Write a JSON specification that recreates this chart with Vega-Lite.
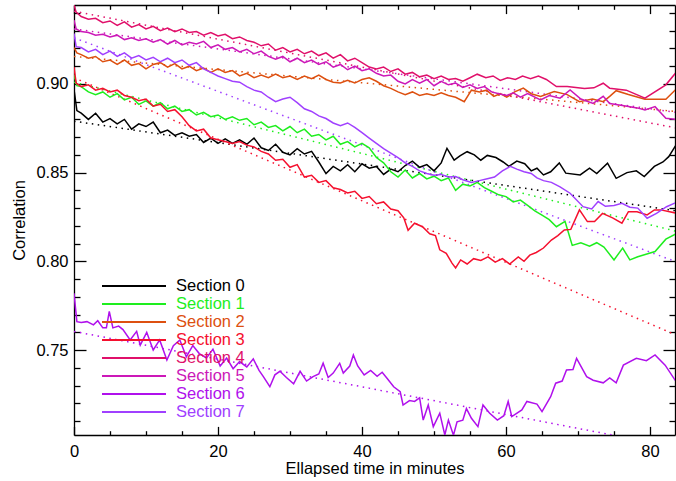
{
  "$schema": "https://vega.github.io/schema/vega-lite/v6.json",
  "width": 601,
  "height": 430,
  "autosize": {"type": "none"},
  "padding": {"left": 74, "top": 5, "right": 1, "bottom": 46},
  "background": "white",
  "config": {
    "view": {"stroke": null},
    "font": "Liberation Sans",
    "axis": {
      "labelFont": "Liberation Sans", "titleFont": "Liberation Sans",
      "labelFontSize": 16.5, "titleFontSize": 16.5, "titleFontWeight": "normal",
      "labelColor": "black", "titleColor": "black",
      "domainColor": "black", "tickColor": "black",
      "domainWidth": 1.3, "tickWidth": 1.3,
      "grid": false, "labelFlush": false, "labelOverlap": false
    }
  },
  "datasets": {
    "lines": [
      {"s":"Section 0","t":0,"c":0.897},{"s":"Section 0","t":0.4,"c":0.885},{"s":"Section 0","t":1,"c":0.8835},{"s":"Section 0","t":2,"c":0.880},{"s":"Section 0","t":3,"c":0.8835},{"s":"Section 0","t":4,"c":0.8785},{"s":"Section 0","t":5,"c":0.8805},{"s":"Section 0","t":6,"c":0.8775},{"s":"Section 0","t":7,"c":0.880},{"s":"Section 0","t":8,"c":0.8745},{"s":"Section 0","t":9,"c":0.8775},{"s":"Section 0","t":10,"c":0.876},{"s":"Section 0","t":11,"c":0.8785},{"s":"Section 0","t":12,"c":0.8725},{"s":"Section 0","t":13,"c":0.874},{"s":"Section 0","t":14,"c":0.871},{"s":"Section 0","t":15,"c":0.8725},{"s":"Section 0","t":16,"c":0.8705},{"s":"Section 0","t":17,"c":0.8715},{"s":"Section 0","t":18,"c":0.867},{"s":"Section 0","t":19,"c":0.8695},{"s":"Section 0","t":20,"c":0.8665},{"s":"Section 0","t":21,"c":0.869},{"s":"Section 0","t":22,"c":0.8665},{"s":"Section 0","t":23,"c":0.8685},{"s":"Section 0","t":24,"c":0.866},{"s":"Section 0","t":25,"c":0.8695},{"s":"Section 0","t":26,"c":0.864},{"s":"Section 0","t":27,"c":0.8625},{"s":"Section 0","t":28,"c":0.866},{"s":"Section 0","t":29,"c":0.8615},{"s":"Section 0","t":30,"c":0.860},{"s":"Section 0","t":31,"c":0.8635},{"s":"Section 0","t":32,"c":0.8605},{"s":"Section 0","t":33,"c":0.862},{"s":"Section 0","t":34,"c":0.856},{"s":"Section 0","t":35,"c":0.8495},{"s":"Section 0","t":36,"c":0.8535},{"s":"Section 0","t":37,"c":0.851},{"s":"Section 0","t":38,"c":0.8545},{"s":"Section 0","t":39,"c":0.8505},{"s":"Section 0","t":40,"c":0.855},{"s":"Section 0","t":41,"c":0.8525},{"s":"Section 0","t":42,"c":0.8535},{"s":"Section 0","t":43,"c":0.849},{"s":"Section 0","t":44,"c":0.852},{"s":"Section 0","t":45,"c":0.8505},{"s":"Section 0","t":46,"c":0.854},{"s":"Section 0","t":47,"c":0.8565},{"s":"Section 0","t":48,"c":0.853},{"s":"Section 0","t":49,"c":0.8545},{"s":"Section 0","t":50,"c":0.851},{"s":"Section 0","t":51,"c":0.8555},{"s":"Section 0","t":51.8,"c":0.8637},{"s":"Section 0","t":52.8,"c":0.857},{"s":"Section 0","t":53.6,"c":0.8595},{"s":"Section 0","t":54.6,"c":0.8618},{"s":"Section 0","t":55.6,"c":0.860},{"s":"Section 0","t":56.5,"c":0.857},{"s":"Section 0","t":57.4,"c":0.8597},{"s":"Section 0","t":58.6,"c":0.8585},{"s":"Section 0","t":59.6,"c":0.856},{"s":"Section 0","t":60.4,"c":0.8535},{"s":"Section 0","t":61.5,"c":0.8565},{"s":"Section 0","t":62.6,"c":0.855},{"s":"Section 0","t":63.5,"c":0.851},{"s":"Section 0","t":64.3,"c":0.8525},{"s":"Section 0","t":65.2,"c":0.8487},{"s":"Section 0","t":66.2,"c":0.8505},{"s":"Section 0","t":67.4,"c":0.8555},{"s":"Section 0","t":68.3,"c":0.8497},{"s":"Section 0","t":70.3,"c":0.8487},{"s":"Section 0","t":71.6,"c":0.8525},{"s":"Section 0","t":72.6,"c":0.8495},{"s":"Section 0","t":74.1,"c":0.8553},{"s":"Section 0","t":75.3,"c":0.8468},{"s":"Section 0","t":76.8,"c":0.850},{"s":"Section 0","t":78.1,"c":0.851},{"s":"Section 0","t":79.2,"c":0.8478},{"s":"Section 0","t":80.6,"c":0.8535},{"s":"Section 0","t":81.8,"c":0.856},{"s":"Section 0","t":82.6,"c":0.859},{"s":"Section 0","t":83.6,"c":0.8655},

      {"s":"Section 1","t":0,"c":0.905},{"s":"Section 1","t":0.4,"c":0.899},{"s":"Section 1","t":1,"c":0.8985},{"s":"Section 1","t":2,"c":0.8955},{"s":"Section 1","t":3,"c":0.894},{"s":"Section 1","t":4,"c":0.8955},{"s":"Section 1","t":5,"c":0.8925},{"s":"Section 1","t":6,"c":0.8945},{"s":"Section 1","t":7,"c":0.891},{"s":"Section 1","t":8,"c":0.8925},{"s":"Section 1","t":9,"c":0.8885},{"s":"Section 1","t":10,"c":0.8905},{"s":"Section 1","t":11,"c":0.8875},{"s":"Section 1","t":12,"c":0.8895},{"s":"Section 1","t":13,"c":0.886},{"s":"Section 1","t":14,"c":0.8875},{"s":"Section 1","t":15,"c":0.8845},{"s":"Section 1","t":16,"c":0.8855},{"s":"Section 1","t":17,"c":0.8825},{"s":"Section 1","t":18,"c":0.884},{"s":"Section 1","t":19,"c":0.8815},{"s":"Section 1","t":20,"c":0.8825},{"s":"Section 1","t":21,"c":0.880},{"s":"Section 1","t":22,"c":0.8815},{"s":"Section 1","t":23,"c":0.8795},{"s":"Section 1","t":24,"c":0.8805},{"s":"Section 1","t":25,"c":0.877},{"s":"Section 1","t":26,"c":0.8785},{"s":"Section 1","t":27,"c":0.8755},{"s":"Section 1","t":28,"c":0.8765},{"s":"Section 1","t":29,"c":0.8735},{"s":"Section 1","t":30,"c":0.876},{"s":"Section 1","t":31,"c":0.8725},{"s":"Section 1","t":32,"c":0.8745},{"s":"Section 1","t":33,"c":0.8705},{"s":"Section 1","t":34,"c":0.8715},{"s":"Section 1","t":35,"c":0.8685},{"s":"Section 1","t":36,"c":0.8705},{"s":"Section 1","t":37,"c":0.866},{"s":"Section 1","t":38,"c":0.8675},{"s":"Section 1","t":39,"c":0.8645},{"s":"Section 1","t":40,"c":0.8665},{"s":"Section 1","t":41,"c":0.864},{"s":"Section 1","t":42,"c":0.8585},{"s":"Section 1","t":43,"c":0.8555},{"s":"Section 1","t":44,"c":0.8505},{"s":"Section 1","t":45,"c":0.8475},{"s":"Section 1","t":46,"c":0.8515},{"s":"Section 1","t":47,"c":0.847},{"s":"Section 1","t":48,"c":0.8495},{"s":"Section 1","t":49,"c":0.8465},{"s":"Section 1","t":50,"c":0.848},{"s":"Section 1","t":51,"c":0.8455},{"s":"Section 1","t":52,"c":0.847},{"s":"Section 1","t":53,"c":0.840},{"s":"Section 1","t":54,"c":0.8435},{"s":"Section 1","t":55,"c":0.8425},{"s":"Section 1","t":56,"c":0.8445},{"s":"Section 1","t":57,"c":0.8415},{"s":"Section 1","t":58,"c":0.8395},{"s":"Section 1","t":59,"c":0.8375},{"s":"Section 1","t":60,"c":0.8365},{"s":"Section 1","t":61,"c":0.8335},{"s":"Section 1","t":62,"c":0.8345},{"s":"Section 1","t":63,"c":0.8315},{"s":"Section 1","t":64,"c":0.8285},{"s":"Section 1","t":65,"c":0.826},{"s":"Section 1","t":66,"c":0.8235},{"s":"Section 1","t":67,"c":0.8195},{"s":"Section 1","t":68.2,"c":0.8225},{"s":"Section 1","t":69.2,"c":0.809},{"s":"Section 1","t":70.4,"c":0.8105},{"s":"Section 1","t":71.6,"c":0.8085},{"s":"Section 1","t":72.6,"c":0.8105},{"s":"Section 1","t":73.6,"c":0.808},{"s":"Section 1","t":75,"c":0.8008},{"s":"Section 1","t":76.2,"c":0.8075},{"s":"Section 1","t":77.2,"c":0.8008},{"s":"Section 1","t":78.3,"c":0.8026},{"s":"Section 1","t":80.7,"c":0.8055},{"s":"Section 1","t":82.2,"c":0.8125},{"s":"Section 1","t":83.6,"c":0.8155},

      {"s":"Section 2","t":0,"c":0.9205},{"s":"Section 2","t":0.4,"c":0.9175},{"s":"Section 2","t":1,"c":0.9165},{"s":"Section 2","t":2,"c":0.9145},{"s":"Section 2","t":3,"c":0.9155},{"s":"Section 2","t":4,"c":0.9125},{"s":"Section 2","t":5,"c":0.9135},{"s":"Section 2","t":6,"c":0.911},{"s":"Section 2","t":7,"c":0.9135},{"s":"Section 2","t":8,"c":0.9105},{"s":"Section 2","t":9,"c":0.9115},{"s":"Section 2","t":10,"c":0.9085},{"s":"Section 2","t":11,"c":0.911},{"s":"Section 2","t":12,"c":0.912},{"s":"Section 2","t":13,"c":0.9095},{"s":"Section 2","t":14,"c":0.9115},{"s":"Section 2","t":15,"c":0.9085},{"s":"Section 2","t":16,"c":0.910},{"s":"Section 2","t":17,"c":0.9075},{"s":"Section 2","t":18,"c":0.909},{"s":"Section 2","t":19,"c":0.9065},{"s":"Section 2","t":20,"c":0.9085},{"s":"Section 2","t":21,"c":0.9065},{"s":"Section 2","t":22,"c":0.9075},{"s":"Section 2","t":23,"c":0.9045},{"s":"Section 2","t":24,"c":0.906},{"s":"Section 2","t":25,"c":0.9035},{"s":"Section 2","t":26,"c":0.905},{"s":"Section 2","t":27,"c":0.9035},{"s":"Section 2","t":28,"c":0.9055},{"s":"Section 2","t":29,"c":0.9035},{"s":"Section 2","t":30,"c":0.9045},{"s":"Section 2","t":31,"c":0.9025},{"s":"Section 2","t":32,"c":0.9045},{"s":"Section 2","t":33,"c":0.903},{"s":"Section 2","t":34,"c":0.905},{"s":"Section 2","t":35,"c":0.9025},{"s":"Section 2","t":36,"c":0.901},{"s":"Section 2","t":37,"c":0.9005},{"s":"Section 2","t":38,"c":0.902},{"s":"Section 2","t":39,"c":0.9005},{"s":"Section 2","t":40,"c":0.9025},{"s":"Section 2","t":41,"c":0.9035},{"s":"Section 2","t":42,"c":0.9015},{"s":"Section 2","t":43,"c":0.899},{"s":"Section 2","t":44,"c":0.8975},{"s":"Section 2","t":45,"c":0.8955},{"s":"Section 2","t":46,"c":0.894},{"s":"Section 2","t":47,"c":0.8955},{"s":"Section 2","t":48,"c":0.8935},{"s":"Section 2","t":49,"c":0.8945},{"s":"Section 2","t":50,"c":0.8935},{"s":"Section 2","t":51,"c":0.895},{"s":"Section 2","t":52,"c":0.8935},{"s":"Section 2","t":53,"c":0.8925},{"s":"Section 2","t":54.2,"c":0.890},{"s":"Section 2","t":55.2,"c":0.8965},{"s":"Section 2","t":56.3,"c":0.8955},{"s":"Section 2","t":57.3,"c":0.8965},{"s":"Section 2","t":58.3,"c":0.893},{"s":"Section 2","t":59.2,"c":0.8945},{"s":"Section 2","t":60.1,"c":0.8925},{"s":"Section 2","t":61.2,"c":0.8955},{"s":"Section 2","t":62.4,"c":0.8977},{"s":"Section 2","t":63.5,"c":0.8945},{"s":"Section 2","t":64.8,"c":0.893},{"s":"Section 2","t":66.7,"c":0.8957},{"s":"Section 2","t":68.5,"c":0.894},{"s":"Section 2","t":70.2,"c":0.890},{"s":"Section 2","t":72,"c":0.8915},{"s":"Section 2","t":73.5,"c":0.890},{"s":"Section 2","t":74.4,"c":0.893},{"s":"Section 2","t":75.3,"c":0.8962},{"s":"Section 2","t":77,"c":0.894},{"s":"Section 2","t":79.3,"c":0.8914},{"s":"Section 2","t":82.2,"c":0.8914},{"s":"Section 2","t":83.6,"c":0.897},

      {"s":"Section 3","t":0,"c":0.9095},{"s":"Section 3","t":0.3,"c":0.9005},{"s":"Section 3","t":1,"c":0.8985},{"s":"Section 3","t":2,"c":0.8995},{"s":"Section 3","t":3,"c":0.8965},{"s":"Section 3","t":4,"c":0.8975},{"s":"Section 3","t":5,"c":0.8955},{"s":"Section 3","t":6,"c":0.8965},{"s":"Section 3","t":7,"c":0.8935},{"s":"Section 3","t":8,"c":0.8925},{"s":"Section 3","t":9,"c":0.8905},{"s":"Section 3","t":10,"c":0.8915},{"s":"Section 3","t":11,"c":0.8875},{"s":"Section 3","t":12,"c":0.8885},{"s":"Section 3","t":13,"c":0.8845},{"s":"Section 3","t":14,"c":0.8855},{"s":"Section 3","t":15,"c":0.8815},{"s":"Section 3","t":16,"c":0.8765},{"s":"Section 3","t":17,"c":0.8735},{"s":"Section 3","t":18,"c":0.8745},{"s":"Section 3","t":19,"c":0.8695},{"s":"Section 3","t":20,"c":0.8685},{"s":"Section 3","t":21,"c":0.8675},{"s":"Section 3","t":22,"c":0.8665},{"s":"Section 3","t":23,"c":0.8675},{"s":"Section 3","t":24,"c":0.8655},{"s":"Section 3","t":25,"c":0.8645},{"s":"Section 3","t":26,"c":0.862},{"s":"Section 3","t":27,"c":0.8605},{"s":"Section 3","t":28,"c":0.857},{"s":"Section 3","t":29,"c":0.8575},{"s":"Section 3","t":30,"c":0.853},{"s":"Section 3","t":31,"c":0.8545},{"s":"Section 3","t":32,"c":0.8475},{"s":"Section 3","t":33,"c":0.8485},{"s":"Section 3","t":34,"c":0.8445},{"s":"Section 3","t":35,"c":0.8455},{"s":"Section 3","t":36,"c":0.8415},{"s":"Section 3","t":37,"c":0.8405},{"s":"Section 3","t":38,"c":0.8385},{"s":"Section 3","t":39,"c":0.8395},{"s":"Section 3","t":40,"c":0.8355},{"s":"Section 3","t":41,"c":0.8365},{"s":"Section 3","t":42,"c":0.8325},{"s":"Section 3","t":43,"c":0.8335},{"s":"Section 3","t":44,"c":0.8295},{"s":"Section 3","t":45,"c":0.8285},{"s":"Section 3","t":45.8,"c":0.8245},{"s":"Section 3","t":46.4,"c":0.8175},{"s":"Section 3","t":47.3,"c":0.8215},{"s":"Section 3","t":48.4,"c":0.8195},{"s":"Section 3","t":49.4,"c":0.8155},{"s":"Section 3","t":50.2,"c":0.8145},{"s":"Section 3","t":50.8,"c":0.8065},{"s":"Section 3","t":51.7,"c":0.8045},{"s":"Section 3","t":52.5,"c":0.799},{"s":"Section 3","t":53,"c":0.7963},{"s":"Section 3","t":53.7,"c":0.8008},{"s":"Section 3","t":54.6,"c":0.7985},{"s":"Section 3","t":55.5,"c":0.8015},{"s":"Section 3","t":56.5,"c":0.8005},{"s":"Section 3","t":57.5,"c":0.8025},{"s":"Section 3","t":58.5,"c":0.7995},{"s":"Section 3","t":59.5,"c":0.8015},{"s":"Section 3","t":60.5,"c":0.7985},{"s":"Section 3","t":61.7,"c":0.8025},{"s":"Section 3","t":62.5,"c":0.800},{"s":"Section 3","t":63.3,"c":0.8035},{"s":"Section 3","t":64.2,"c":0.805},{"s":"Section 3","t":65.2,"c":0.8075},{"s":"Section 3","t":66.3,"c":0.812},{"s":"Section 3","t":67.2,"c":0.8145},{"s":"Section 3","t":68.1,"c":0.8177},{"s":"Section 3","t":69,"c":0.818},{"s":"Section 3","t":70.2,"c":0.829},{"s":"Section 3","t":71.3,"c":0.8224},{"s":"Section 3","t":72.3,"c":0.8225},{"s":"Section 3","t":73.4,"c":0.827},{"s":"Section 3","t":74.8,"c":0.8245},{"s":"Section 3","t":76.1,"c":0.8215},{"s":"Section 3","t":77,"c":0.828},{"s":"Section 3","t":78.2,"c":0.828},{"s":"Section 3","t":79.6,"c":0.8262},{"s":"Section 3","t":80.6,"c":0.829},{"s":"Section 3","t":81.5,"c":0.829},{"s":"Section 3","t":83.6,"c":0.8272},

      {"s":"Section 4","t":0,"c":0.9445},{"s":"Section 4","t":0.3,"c":0.9405},{"s":"Section 4","t":1,"c":0.938},{"s":"Section 4","t":2,"c":0.9365},{"s":"Section 4","t":3,"c":0.937},{"s":"Section 4","t":4,"c":0.9345},{"s":"Section 4","t":5,"c":0.9355},{"s":"Section 4","t":6,"c":0.933},{"s":"Section 4","t":7,"c":0.935},{"s":"Section 4","t":8,"c":0.932},{"s":"Section 4","t":9,"c":0.9335},{"s":"Section 4","t":10,"c":0.931},{"s":"Section 4","t":11,"c":0.9325},{"s":"Section 4","t":12,"c":0.930},{"s":"Section 4","t":13,"c":0.9315},{"s":"Section 4","t":14,"c":0.9295},{"s":"Section 4","t":15,"c":0.931},{"s":"Section 4","t":16,"c":0.929},{"s":"Section 4","t":17,"c":0.9295},{"s":"Section 4","t":18,"c":0.9275},{"s":"Section 4","t":19,"c":0.929},{"s":"Section 4","t":20,"c":0.927},{"s":"Section 4","t":21,"c":0.928},{"s":"Section 4","t":22,"c":0.9255},{"s":"Section 4","t":23,"c":0.9265},{"s":"Section 4","t":24,"c":0.9245},{"s":"Section 4","t":25,"c":0.9235},{"s":"Section 4","t":26,"c":0.9215},{"s":"Section 4","t":27,"c":0.9225},{"s":"Section 4","t":28,"c":0.919},{"s":"Section 4","t":29,"c":0.9205},{"s":"Section 4","t":30,"c":0.918},{"s":"Section 4","t":31,"c":0.9195},{"s":"Section 4","t":32,"c":0.917},{"s":"Section 4","t":33,"c":0.9185},{"s":"Section 4","t":34,"c":0.916},{"s":"Section 4","t":35,"c":0.9175},{"s":"Section 4","t":36,"c":0.9145},{"s":"Section 4","t":37,"c":0.9165},{"s":"Section 4","t":38,"c":0.913},{"s":"Section 4","t":39,"c":0.9145},{"s":"Section 4","t":40,"c":0.912},{"s":"Section 4","t":41,"c":0.9095},{"s":"Section 4","t":42,"c":0.9085},{"s":"Section 4","t":43,"c":0.9095},{"s":"Section 4","t":44,"c":0.907},{"s":"Section 4","t":45,"c":0.9085},{"s":"Section 4","t":46,"c":0.9055},{"s":"Section 4","t":47,"c":0.9065},{"s":"Section 4","t":48,"c":0.904},{"s":"Section 4","t":49,"c":0.905},{"s":"Section 4","t":50,"c":0.903},{"s":"Section 4","t":51,"c":0.9045},{"s":"Section 4","t":52,"c":0.9025},{"s":"Section 4","t":53,"c":0.903},{"s":"Section 4","t":54,"c":0.9015},{"s":"Section 4","t":55,"c":0.9035},{"s":"Section 4","t":56,"c":0.9055},{"s":"Section 4","t":57.2,"c":0.9035},{"s":"Section 4","t":58.2,"c":0.9045},{"s":"Section 4","t":59.2,"c":0.902},{"s":"Section 4","t":60.2,"c":0.9035},{"s":"Section 4","t":61.3,"c":0.9025},{"s":"Section 4","t":62.3,"c":0.9045},{"s":"Section 4","t":63.4,"c":0.903},{"s":"Section 4","t":64.5,"c":0.9045},{"s":"Section 4","t":65.6,"c":0.9025},{"s":"Section 4","t":67,"c":0.8985},{"s":"Section 4","t":68.5,"c":0.8985},{"s":"Section 4","t":70.9,"c":0.8975},{"s":"Section 4","t":72.2,"c":0.8978},{"s":"Section 4","t":73.5,"c":0.9004},{"s":"Section 4","t":74.4,"c":0.8976},{"s":"Section 4","t":76.7,"c":0.8965},{"s":"Section 4","t":79.3,"c":0.892},{"s":"Section 4","t":82.2,"c":0.8995},{"s":"Section 4","t":83.6,"c":0.9064},

      {"s":"Section 5","t":0,"c":0.936},{"s":"Section 5","t":0.3,"c":0.931},{"s":"Section 5","t":1,"c":0.9295},{"s":"Section 5","t":2,"c":0.929},{"s":"Section 5","t":3,"c":0.9275},{"s":"Section 5","t":4,"c":0.928},{"s":"Section 5","t":5,"c":0.9265},{"s":"Section 5","t":6,"c":0.9275},{"s":"Section 5","t":7,"c":0.925},{"s":"Section 5","t":8,"c":0.926},{"s":"Section 5","t":9,"c":0.9245},{"s":"Section 5","t":10,"c":0.9255},{"s":"Section 5","t":11,"c":0.9235},{"s":"Section 5","t":12,"c":0.925},{"s":"Section 5","t":13,"c":0.9225},{"s":"Section 5","t":14,"c":0.9245},{"s":"Section 5","t":15,"c":0.922},{"s":"Section 5","t":16,"c":0.9235},{"s":"Section 5","t":17,"c":0.9225},{"s":"Section 5","t":18,"c":0.924},{"s":"Section 5","t":19,"c":0.9205},{"s":"Section 5","t":20,"c":0.922},{"s":"Section 5","t":21,"c":0.9195},{"s":"Section 5","t":22,"c":0.9205},{"s":"Section 5","t":23,"c":0.918},{"s":"Section 5","t":24,"c":0.9195},{"s":"Section 5","t":25,"c":0.917},{"s":"Section 5","t":26,"c":0.9185},{"s":"Section 5","t":27,"c":0.9155},{"s":"Section 5","t":28,"c":0.914},{"s":"Section 5","t":29,"c":0.9155},{"s":"Section 5","t":30,"c":0.9125},{"s":"Section 5","t":31,"c":0.9145},{"s":"Section 5","t":32,"c":0.912},{"s":"Section 5","t":33,"c":0.9135},{"s":"Section 5","t":34,"c":0.911},{"s":"Section 5","t":35,"c":0.9125},{"s":"Section 5","t":36,"c":0.9095},{"s":"Section 5","t":37,"c":0.911},{"s":"Section 5","t":38,"c":0.908},{"s":"Section 5","t":39,"c":0.910},{"s":"Section 5","t":40,"c":0.9075},{"s":"Section 5","t":41,"c":0.9085},{"s":"Section 5","t":42,"c":0.906},{"s":"Section 5","t":43,"c":0.9045},{"s":"Section 5","t":44,"c":0.905},{"s":"Section 5","t":45,"c":0.9015},{"s":"Section 5","t":46,"c":0.900},{"s":"Section 5","t":47,"c":0.9025},{"s":"Section 5","t":48,"c":0.9005},{"s":"Section 5","t":49,"c":0.9025},{"s":"Section 5","t":50,"c":0.899},{"s":"Section 5","t":51,"c":0.9015},{"s":"Section 5","t":52,"c":0.8995},{"s":"Section 5","t":53,"c":0.9005},{"s":"Section 5","t":54,"c":0.898},{"s":"Section 5","t":55,"c":0.8995},{"s":"Section 5","t":56,"c":0.8975},{"s":"Section 5","t":57,"c":0.8985},{"s":"Section 5","t":58,"c":0.8955},{"s":"Section 5","t":59,"c":0.8945},{"s":"Section 5","t":60.1,"c":0.8935},{"s":"Section 5","t":61,"c":0.895},{"s":"Section 5","t":62,"c":0.8925},{"s":"Section 5","t":63,"c":0.8945},{"s":"Section 5","t":64.8,"c":0.891},{"s":"Section 5","t":66,"c":0.8935},{"s":"Section 5","t":67.5,"c":0.892},{"s":"Section 5","t":68.9,"c":0.8966},{"s":"Section 5","t":70.4,"c":0.8915},{"s":"Section 5","t":72.1,"c":0.889},{"s":"Section 5","t":73.5,"c":0.893},{"s":"Section 5","t":74.4,"c":0.889},{"s":"Section 5","t":76.6,"c":0.8875},{"s":"Section 5","t":78.2,"c":0.8865},{"s":"Section 5","t":79.3,"c":0.8853},{"s":"Section 5","t":80.7,"c":0.8872},{"s":"Section 5","t":82.2,"c":0.8807},{"s":"Section 5","t":83.6,"c":0.880},

      {"s":"Section 6","t":0,"c":0.782},{"s":"Section 6","t":0.4,"c":0.766},{"s":"Section 6","t":1,"c":0.7655},{"s":"Section 6","t":1.8,"c":0.766},{"s":"Section 6","t":2.7,"c":0.7642},{"s":"Section 6","t":3.3,"c":0.7665},{"s":"Section 6","t":4,"c":0.7625},{"s":"Section 6","t":4.5,"c":0.7625},{"s":"Section 6","t":4.9,"c":0.7718},{"s":"Section 6","t":5.4,"c":0.7625},{"s":"Section 6","t":6.2,"c":0.7635},{"s":"Section 6","t":6.8,"c":0.7615},{"s":"Section 6","t":7.8,"c":0.7557},{"s":"Section 6","t":8.7,"c":0.7605},{"s":"Section 6","t":9.2,"c":0.7528},{"s":"Section 6","t":10.1,"c":0.760},{"s":"Section 6","t":11,"c":0.750},{"s":"Section 6","t":11.9,"c":0.7557},{"s":"Section 6","t":12.9,"c":0.7444},{"s":"Section 6","t":13.8,"c":0.7525},{"s":"Section 6","t":14.7,"c":0.7557},{"s":"Section 6","t":15.6,"c":0.7462},{"s":"Section 6","t":16.5,"c":0.7525},{"s":"Section 6","t":17.4,"c":0.748},{"s":"Section 6","t":18.4,"c":0.7455},{"s":"Section 6","t":19.3,"c":0.7505},{"s":"Section 6","t":20.3,"c":0.741},{"s":"Section 6","t":21.2,"c":0.7455},{"s":"Section 6","t":22.1,"c":0.7395},{"s":"Section 6","t":23,"c":0.7435},{"s":"Section 6","t":24,"c":0.7405},{"s":"Section 6","t":24.9,"c":0.745},{"s":"Section 6","t":25.7,"c":0.7385},{"s":"Section 6","t":26.3,"c":0.735},{"s":"Section 6","t":27.2,"c":0.7293},{"s":"Section 6","t":27.9,"c":0.736},{"s":"Section 6","t":28.6,"c":0.738},{"s":"Section 6","t":29.5,"c":0.7345},{"s":"Section 6","t":30.5,"c":0.731},{"s":"Section 6","t":31.4,"c":0.738},{"s":"Section 6","t":32.3,"c":0.7325},{"s":"Section 6","t":33.2,"c":0.735},{"s":"Section 6","t":34,"c":0.7365},{"s":"Section 6","t":34.6,"c":0.7426},{"s":"Section 6","t":35.3,"c":0.7345},{"s":"Section 6","t":36,"c":0.737},{"s":"Section 6","t":36.9,"c":0.7425},{"s":"Section 6","t":37.4,"c":0.737},{"s":"Section 6","t":38.3,"c":0.741},{"s":"Section 6","t":38.8,"c":0.7472},{"s":"Section 6","t":39.4,"c":0.741},{"s":"Section 6","t":40.3,"c":0.736},{"s":"Section 6","t":41.2,"c":0.7385},{"s":"Section 6","t":42.1,"c":0.7352},{"s":"Section 6","t":42.8,"c":0.7375},{"s":"Section 6","t":43.5,"c":0.734},{"s":"Section 6","t":44.4,"c":0.7293},{"s":"Section 6","t":45.3,"c":0.7265},{"s":"Section 6","t":45.7,"c":0.719},{"s":"Section 6","t":46.6,"c":0.7215},{"s":"Section 6","t":47.3,"c":0.721},{"s":"Section 6","t":48,"c":0.723},{"s":"Section 6","t":48.5,"c":0.7105},{"s":"Section 6","t":49.2,"c":0.719},{"s":"Section 6","t":49.9,"c":0.7068},{"s":"Section 6","t":50.8,"c":0.7144},{"s":"Section 6","t":51.5,"c":0.7021},{"s":"Section 6","t":52,"c":0.7105},{"s":"Section 6","t":52.7,"c":0.702},{"s":"Section 6","t":53.2,"c":0.7095},{"s":"Section 6","t":54,"c":0.7105},{"s":"Section 6","t":54.5,"c":0.717},{"s":"Section 6","t":55.2,"c":0.7115},{"s":"Section 6","t":56.1,"c":0.7068},{"s":"Section 6","t":56.8,"c":0.719},{"s":"Section 6","t":57.7,"c":0.7145},{"s":"Section 6","t":58.8,"c":0.7105},{"s":"Section 6","t":59.7,"c":0.713},{"s":"Section 6","t":60.3,"c":0.721},{"s":"Section 6","t":60.8,"c":0.7125},{"s":"Section 6","t":62.2,"c":0.7162},{"s":"Section 6","t":62.9,"c":0.721},{"s":"Section 6","t":64.3,"c":0.7195},{"s":"Section 6","t":65,"c":0.7153},{"s":"Section 6","t":66.2,"c":0.7237},{"s":"Section 6","t":66.9,"c":0.7313},{"s":"Section 6","t":67.8,"c":0.7325},{"s":"Section 6","t":68.4,"c":0.7388},{"s":"Section 6","t":69.3,"c":0.739},{"s":"Section 6","t":69.8,"c":0.7453},{"s":"Section 6","t":71.2,"c":0.735},{"s":"Section 6","t":72.1,"c":0.733},{"s":"Section 6","t":73.5,"c":0.7315},{"s":"Section 6","t":74.4,"c":0.7343},{"s":"Section 6","t":75.3,"c":0.7315},{"s":"Section 6","t":76.3,"c":0.7415},{"s":"Section 6","t":78.1,"c":0.7453},{"s":"Section 6","t":79.5,"c":0.744},{"s":"Section 6","t":80.7,"c":0.7472},{"s":"Section 6","t":82.1,"c":0.7415},{"s":"Section 6","t":83.6,"c":0.7323},

      {"s":"Section 7","t":0,"c":0.9285},{"s":"Section 7","t":0.3,"c":0.921},{"s":"Section 7","t":1,"c":0.9205},{"s":"Section 7","t":2,"c":0.918},{"s":"Section 7","t":3,"c":0.9195},{"s":"Section 7","t":4,"c":0.9165},{"s":"Section 7","t":5,"c":0.9185},{"s":"Section 7","t":6,"c":0.9155},{"s":"Section 7","t":7,"c":0.9175},{"s":"Section 7","t":8,"c":0.9145},{"s":"Section 7","t":9,"c":0.916},{"s":"Section 7","t":10,"c":0.9135},{"s":"Section 7","t":11,"c":0.915},{"s":"Section 7","t":12,"c":0.9125},{"s":"Section 7","t":13,"c":0.9145},{"s":"Section 7","t":14,"c":0.912},{"s":"Section 7","t":15,"c":0.9135},{"s":"Section 7","t":16,"c":0.9105},{"s":"Section 7","t":17,"c":0.912},{"s":"Section 7","t":18,"c":0.9085},{"s":"Section 7","t":19,"c":0.9065},{"s":"Section 7","t":20,"c":0.9045},{"s":"Section 7","t":21,"c":0.903},{"s":"Section 7","t":22,"c":0.9015},{"s":"Section 7","t":23,"c":0.901},{"s":"Section 7","t":24,"c":0.8985},{"s":"Section 7","t":25,"c":0.8965},{"s":"Section 7","t":26,"c":0.8955},{"s":"Section 7","t":27,"c":0.8925},{"s":"Section 7","t":28,"c":0.890},{"s":"Section 7","t":29,"c":0.8915},{"s":"Section 7","t":30,"c":0.8925},{"s":"Section 7","t":31,"c":0.8895},{"s":"Section 7","t":32,"c":0.886},{"s":"Section 7","t":33,"c":0.8845},{"s":"Section 7","t":34,"c":0.882},{"s":"Section 7","t":35,"c":0.8805},{"s":"Section 7","t":36,"c":0.878},{"s":"Section 7","t":37,"c":0.8765},{"s":"Section 7","t":38,"c":0.878},{"s":"Section 7","t":39,"c":0.8755},{"s":"Section 7","t":40,"c":0.8725},{"s":"Section 7","t":41,"c":0.8695},{"s":"Section 7","t":42,"c":0.8665},{"s":"Section 7","t":43,"c":0.8635},{"s":"Section 7","t":44,"c":0.861},{"s":"Section 7","t":45,"c":0.8585},{"s":"Section 7","t":46,"c":0.8555},{"s":"Section 7","t":47,"c":0.8535},{"s":"Section 7","t":48,"c":0.851},{"s":"Section 7","t":49,"c":0.8495},{"s":"Section 7","t":50,"c":0.8485},{"s":"Section 7","t":51,"c":0.849},{"s":"Section 7","t":52,"c":0.8475},{"s":"Section 7","t":53,"c":0.8478},{"s":"Section 7","t":54,"c":0.846},{"s":"Section 7","t":55.2,"c":0.8445},{"s":"Section 7","t":56.3,"c":0.8455},{"s":"Section 7","t":57.4,"c":0.8465},{"s":"Section 7","t":58.4,"c":0.8475},{"s":"Section 7","t":59.5,"c":0.851},{"s":"Section 7","t":60.6,"c":0.8535},{"s":"Section 7","t":61.5,"c":0.852},{"s":"Section 7","t":62.5,"c":0.8505},{"s":"Section 7","t":63.5,"c":0.8495},{"s":"Section 7","t":64.3,"c":0.847},{"s":"Section 7","t":65.2,"c":0.8455},{"s":"Section 7","t":66.3,"c":0.8445},{"s":"Section 7","t":67.5,"c":0.842},{"s":"Section 7","t":68.9,"c":0.8384},{"s":"Section 7","t":70.7,"c":0.8308},{"s":"Section 7","t":71.9,"c":0.8295},{"s":"Section 7","t":72.8,"c":0.8337},{"s":"Section 7","t":73.8,"c":0.831},{"s":"Section 7","t":75,"c":0.8315},{"s":"Section 7","t":76.1,"c":0.8327},{"s":"Section 7","t":77.2,"c":0.8305},{"s":"Section 7","t":78.3,"c":0.830},{"s":"Section 7","t":79.6,"c":0.8243},{"s":"Section 7","t":80.9,"c":0.827},{"s":"Section 7","t":82.3,"c":0.8308},{"s":"Section 7","t":83.6,"c":0.8331}
    ],
    "trends": [
      {"s":"Section 0","t":0,"c":0.879},{"s":"Section 0","t":83.6,"c":0.8285},
      {"s":"Section 1","t":0,"c":0.901},{"s":"Section 1","t":83.6,"c":0.817},
      {"s":"Section 2","t":0,"c":0.9155},{"s":"Section 2","t":83.6,"c":0.8845},
      {"s":"Section 3","t":0,"c":0.9035},{"s":"Section 3","t":83.6,"c":0.7585},
      {"s":"Section 4","t":0,"c":0.941},{"s":"Section 4","t":83.6,"c":0.8752},
      {"s":"Section 5","t":0,"c":0.931},{"s":"Section 5","t":83.6,"c":0.884},
      {"s":"Section 6","t":0,"c":0.7605},{"s":"Section 6","t":83.6,"c":0.6952},
      {"s":"Section 7","t":0,"c":0.926},{"s":"Section 7","t":83.6,"c":0.7998}
    ]
  },
  "layer": [
    {
      "data": {"name": "trends"},
      "mark": {"type": "line", "strokeWidth": 1.5, "strokeDash": [1.5, 4.5], "clip": true},
      "encoding": {
        "x": {"field": "t", "type": "quantitative", "scale": {"domain": [0, 83.47], "nice": false, "zero": false},
          "axis": {"orient": "bottom", "values": [5,10,15,25,30,35,45,50,55,65,70,75], "tickSize": -4.3, "labels": false, "title": null, "domain": false}},
        "y": {"field": "c", "type": "quantitative", "scale": {"domain": [0.7021, 0.9445], "nice": false, "zero": false},
          "axis": {"orient": "left", "values": [0.71,0.72,0.73,0.74,0.76,0.77,0.78,0.79,0.81,0.82,0.83,0.84,0.86,0.87,0.88,0.89,0.91,0.92,0.93,0.94], "tickSize": -6, "labels": false, "title": null, "domain": false}},
        "stroke": {"field": "s", "type": "nominal",
          "scale": {"range": ["#000000","#1eee1e","#dd5010","#f5102e","#e0106a","#cc18b8","#b010ec","#a040ff"]},
          "legend": null},
        "detail": {"field": "s"}
      }
    },
    {
      "data": {"name": "lines"},
      "mark": {"type": "line", "strokeWidth": 1.5, "clip": true},
      "encoding": {
        "x": {"field": "t", "type": "quantitative",
          "axis": {"orient": "bottom", "values": [0,20,40,60,80], "tickSize": -8.6, "labelPadding": 16.6, "title": "Ellapsed time in minutes", "titleBaseline": "alphabetic", "titleY": 38}},
        "y": {"field": "c", "type": "quantitative",
          "axis": {"orient": "left", "values": [0.75,0.8,0.85,0.9], "format": ".2f", "tickSize": -12, "labelPadding": 18, "title": "Correlation", "titleBaseline": "alphabetic", "titleX": -50}},
        "color": {"field": "s", "type": "nominal",
          "scale": {"domain": ["Section 0","Section 1","Section 2","Section 3","Section 4","Section 5","Section 6","Section 7"],
                    "range": ["#000000","#1eee1e","#dd5010","#f5102e","#e0106a","#cc18b8","#b010ec","#a040ff"]},
          "legend": {"orient": "none", "legendX": 51, "legendY": 272, "title": null, "symbolType": "M-4,0H4", "symbolSize": 256, "symbolStrokeWidth": 2,
            "labelFont": "Liberation Sans", "labelFontSize": 16.5, "labelOffset": 33, "rowPadding": -1, "padding": 0,
            "labelColor": {"expr": "scale('color', datum.value)"}}}
      }
    },
    {
      "data": {"name": "trends"},
      "mark": {"type": "point", "opacity": 0},
      "encoding": {
        "x": {"field": "t", "type": "quantitative", "axis": {"orient": "top", "values": [0,20,40,60,80], "tickSize": -8.6, "labels": false, "title": null}},
        "y": {"field": "c", "type": "quantitative", "axis": {"orient": "right", "values": [0.75,0.8,0.85,0.9], "tickSize": -12, "labels": false, "title": null}}
      }
    },
    {
      "data": {"name": "trends"},
      "mark": {"type": "point", "opacity": 0},
      "encoding": {
        "x": {"field": "t", "type": "quantitative", "axis": {"orient": "top", "values": [5,10,15,25,30,35,45,50,55,65,70,75], "tickSize": -4.3, "labels": false, "title": null, "domain": false}},
        "y": {"field": "c", "type": "quantitative", "axis": {"orient": "right", "values": [0.71,0.72,0.73,0.74,0.76,0.77,0.78,0.79,0.81,0.82,0.83,0.84,0.86,0.87,0.88,0.89,0.91,0.92,0.93,0.94], "tickSize": -6, "labels": false, "title": null, "domain": false}}
      }
    }
  ],
  "resolve": {"axis": {"x": "independent", "y": "independent"}}
}
